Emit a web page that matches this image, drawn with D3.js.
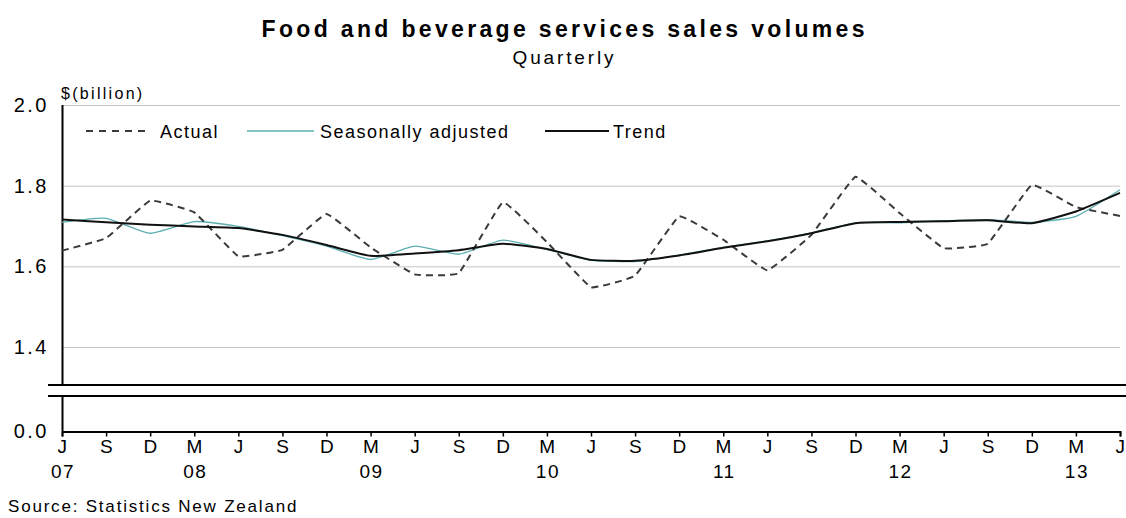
<!DOCTYPE html>
<html>
<head>
<meta charset="utf-8">
<script src="https://cdn.jsdelivr.net/npm/d3@7"></script>
<style>
  body { margin: 0; background: #fff; }
  text { font-family: "Liberation Sans", Arial, sans-serif; fill: #000; }
</style>
</head>
<body>
<div id="chart"></div>
<script>
// quarters, Jun 2007 .. Jun 2013
const months = ['J', 'S', 'D', 'M', 'J', 'S', 'D', 'M', 'J', 'S', 'D', 'M', 'J',
  'S', 'D', 'M', 'J', 'S', 'D', 'M', 'J', 'S', 'D', 'M', 'J'];
const years = ['07', '', '', '08', '', '', '', '09', '', '', '', '10', '',
  '', '', '11', '', '', '', '12', '', '', '', '13', ''];

const actual = [1.639, 1.670, 1.763, 1.734, 1.625, 1.641, 1.730, 1.647, 1.580, 1.583,
  1.759, 1.660, 1.548, 1.577, 1.724, 1.666, 1.590, 1.678, 1.822, 1.732,
  1.645, 1.656, 1.802, 1.747, 1.725];
const seasAdj = [1.709, 1.719, 1.682, 1.711, 1.699, 1.676, 1.650, 1.617, 1.650, 1.630,
  1.665, 1.642, 1.615, 1.612, 1.628, 1.647, 1.663, 1.683, 1.708, 1.708,
  1.713, 1.716, 1.709, 1.724, 1.790];
const trend = [1.716, 1.709, 1.703, 1.699, 1.695, 1.678, 1.653, 1.626, 1.632, 1.640,
  1.656, 1.643, 1.616, 1.614, 1.627, 1.646, 1.662, 1.682, 1.707, 1.710,
  1.712, 1.714, 1.707, 1.736, 1.782];

const yTicks = [1.4, 1.6, 1.8, 2.0];

const W = 1126, H = 518;
const left = 62, right = 1120;
const yTop = 105, yLow = 347, yZero = 431;
const breakA = 385, breakB = 396;

const svg = d3.select('#chart').append('svg')
  .attr('width', W).attr('height', H);

const x = d3.scaleLinear().domain([0, months.length - 1]).range([left, right]);
const y = d3.scaleLinear().domain([1.4, 2.0]).range([yLow, yTop]);

// titles
svg.append('text')
  .attr('x', 563).attr('y', 37)
  .attr('text-anchor', 'middle')
  .style('font-size', '23px').style('font-weight', 'bold')
  .attr('textLength', 603).attr('lengthAdjust', 'spacing')
  .text('Food and beverage services sales volumes');
svg.append('text')
  .attr('x', 563).attr('y', 64)
  .attr('text-anchor', 'middle')
  .attr('textLength', 101).attr('lengthAdjust', 'spacing')
  .style('font-size', '19px')
  .text('Quarterly');
svg.append('text')
  .attr('x', 61).attr('y', 99)
  .style('font-size', '16px').style('letter-spacing', '2.3px')
  .text('$(billion)');

// gridlines
const grid = svg.append('g');
grid.selectAll('line')
  .data(yTicks)
  .join('line')
  .attr('x1', left).attr('x2', right)
  .attr('y1', (d) => y(d) + 0.5).attr('y2', (d) => y(d) + 0.5)
  .attr('stroke', '#c4c4c4').attr('stroke-width', 1);

// y labels
const ylab = svg.append('g').style('font-size', '20px').style('letter-spacing', '2.5px');
ylab.selectAll('text')
  .data(yTicks)
  .join('text')
  .attr('x', 49).attr('y', (d) => y(d) + 7)
  .attr('text-anchor', 'end')
  .text((d) => d.toFixed(1));
ylab.append('text')
  .attr('x', 49).attr('y', yZero + 7)
  .attr('text-anchor', 'end')
  .text('0.0');

// left axis with break
svg.append('line')
  .attr('x1', left + 0.5).attr('x2', left + 0.5)
  .attr('y1', yTop).attr('y2', breakA)
  .attr('stroke', '#000').attr('stroke-width', 2);
svg.append('line')
  .attr('x1', left + 0.5).attr('x2', left + 0.5)
  .attr('y1', breakB).attr('y2', yZero)
  .attr('stroke', '#000').attr('stroke-width', 2);
[breakA, breakB].forEach((b) => {
  svg.append('line')
    .attr('x1', 48).attr('x2', W)
    .attr('y1', b).attr('y2', b)
    .attr('stroke', '#000').attr('stroke-width', 2);
});

// bottom axis
const xAxis = d3.axisBottom(x)
  .tickValues(d3.range(months.length))
  .tickSize(5)
  .tickFormat('');
const gx = svg.append('g')
  .attr('transform', `translate(0,${yZero + 0.5})`)
  .call(xAxis);
gx.select('.domain').attr('stroke', '#000').attr('stroke-width', 2);
gx.selectAll('.tick line').attr('stroke', '#000').attr('stroke-width', 1.5);

const xl = svg.append('g').style('font-size', '19px').style('letter-spacing', '1.5px');
xl.selectAll('text.m')
  .data(months)
  .join('text')
  .attr('class', 'm')
  .attr('x', (d, i) => x(i) + 1).attr('y', 453)
  .attr('text-anchor', 'middle')
  .text((d) => d);
xl.selectAll('text.yr')
  .data(years)
  .join('text')
  .attr('class', 'yr')
  .attr('x', (d, i) => x(i) + 1).attr('y', 478)
  .attr('text-anchor', 'middle')
  .text((d) => d);

svg.append('text')
  .attr('x', 8).attr('y', 512)
  .style('font-size', '17px').style('letter-spacing', '1.8px')
  .text('Source: Statistics New Zealand');

// series
const smooth = d3.line()
  .x((d, i) => x(i))
  .y((d) => y(d))
  .curve(d3.curveCardinal.tension(0.5));
const sharp = d3.line()
  .x((d, i) => x(i))
  .y((d) => y(d))
  .curve(d3.curveCardinal.tension(0.75));

svg.append('path')
  .datum(seasAdj)
  .attr('d', smooth)
  .attr('fill', 'none')
  .attr('stroke', '#5aaeb0').attr('stroke-width', 1.3);
svg.append('path')
  .datum(actual)
  .attr('d', sharp)
  .attr('fill', 'none')
  .attr('stroke', '#3a3a3a').attr('stroke-width', 2)
  .attr('stroke-dasharray', '7,5');
svg.append('path')
  .datum(trend)
  .attr('d', smooth)
  .attr('fill', 'none')
  .attr('stroke', '#111').attr('stroke-width', 2);

// legend
const legend = [
  { name: 'Actual', x1: 86, x2: 150, tx: 160, color: '#3a3a3a', w: 2, dash: '7,6' },
  { name: 'Seasonally adjusted', x1: 247, x2: 314, tx: 320, color: '#5aaeb0', w: 1.3, dash: null },
  { name: 'Trend', x1: 545, x2: 609, tx: 613, color: '#111', w: 2, dash: null },
];
const lg = svg.append('g').style('font-size', '18px').style('letter-spacing', '1.5px');
legend.forEach((d) => {
  lg.append('line')
    .attr('x1', d.x1).attr('x2', d.x2)
    .attr('y1', 131).attr('y2', 131)
    .attr('stroke', d.color).attr('stroke-width', d.w)
    .attr('stroke-dasharray', d.dash);
  lg.append('text')
    .attr('x', d.tx).attr('y', 138)
    .text(d.name);
});
</script>
</body>
</html>
